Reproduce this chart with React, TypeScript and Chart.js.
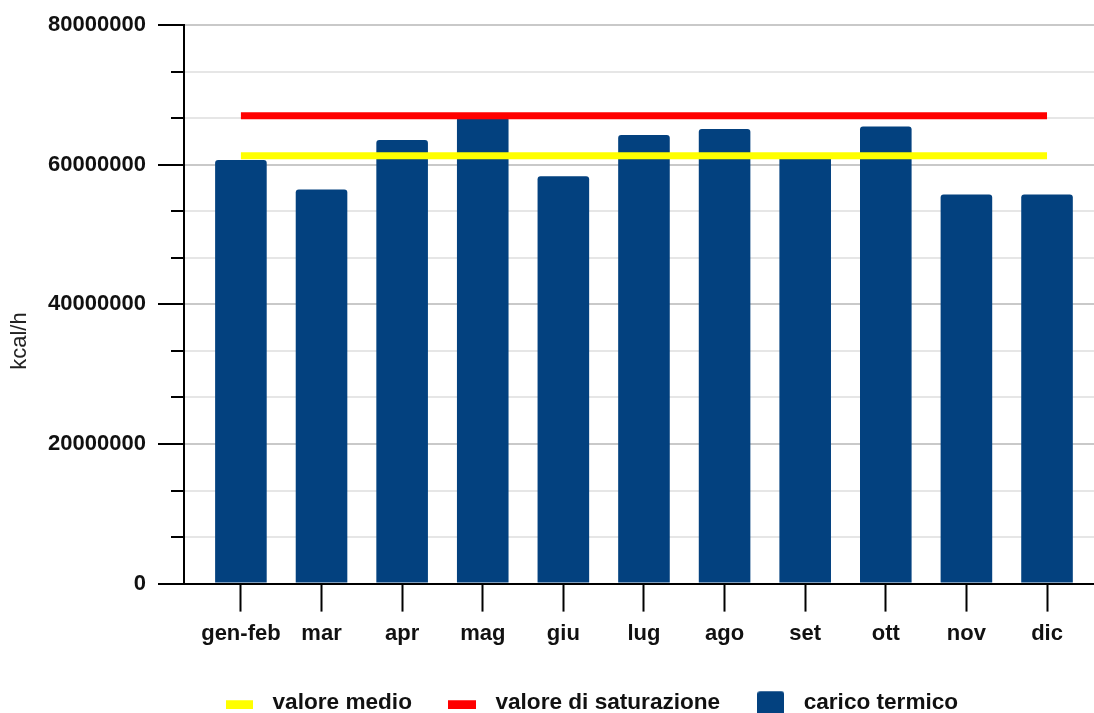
import React, { useEffect, useRef } from 'react';
import { Chart, registerables } from 'chart.js';

Chart.register(...registerables);

// ---- data ----
const categories = ['gen-feb', 'mar', 'apr', 'mag', 'giu', 'lug', 'ago', 'set', 'ott', 'nov', 'dic'];
const caricoTermico = [60690000, 56450000, 63550000, 66900000, 58350000, 64270000, 65130000, 61200000, 65500000, 55730000, 55730000];
const valoreMedio = 61300000;
const valoreSaturazione = 67030000;
const yTickValues = [0, 6666667, 13333333, 20000000, 26666667, 33333333, 40000000, 46666667, 53333333, 60000000, 66666667, 73333333, 80000000];
const yLabelValues = [0, 20000000, 40000000, 60000000, 80000000];
const seriesLabels = ['valore medio', 'valore di saturazione', 'carico termico'];
const yTitle = 'kcal/h';

const FONT = "'Liberation Sans', Arial, Helvetica, sans-serif";
const YELLOW = '#ffff00';
const RED = '#ff0000';
const BLUE = '#03417f';

const isMajor = (v: number) => yLabelValues.some((m) => Math.abs(m - v) < 1);

function makeMarker(color: string, w: number, h: number, shift: number, radius: number) {
  const c = document.createElement('canvas');
  c.width = w;
  c.height = h + shift * 2;
  const ctx = c.getContext('2d')!;
  ctx.fillStyle = color;
  ctx.beginPath();
  if (radius > 0 && (ctx as any).roundRect) {
    (ctx as any).roundRect(0, shift * 2, w, h, radius);
  } else {
    ctx.rect(0, shift * 2, w, h);
  }
  ctx.fill();
  return c;
}

export default function App() {
  const ref = useRef<HTMLCanvasElement>(null);

  useEffect(() => {
    document.body.style.margin = '0';
    const markers = [
      makeMarker(YELLOW, 27, 9, 2, 0),
      makeMarker(RED, 28, 9, 2, 0),
      makeMarker(BLUE, 27, 27, 2, 3),
    ];

    const chart = new Chart(ref.current!, {
      type: 'bar',
      data: {
        datasets: [
          {
            type: 'line',
            label: seriesLabels[0],
            data: categories.map((_, i) => ({ x: i, y: valoreMedio })),
            borderColor: YELLOW,
            backgroundColor: YELLOW,
            borderWidth: 7,
            pointRadius: 0,
            pointHoverRadius: 0,
            borderCapStyle: 'butt',
            fill: false,
            tension: 0,
          } as any,
          {
            type: 'line',
            label: seriesLabels[1],
            data: categories.map((_, i) => ({ x: i, y: valoreSaturazione })),
            borderColor: RED,
            backgroundColor: RED,
            borderWidth: 7,
            pointRadius: 0,
            pointHoverRadius: 0,
            borderCapStyle: 'butt',
            fill: false,
            tension: 0,
          } as any,
          {
            type: 'bar',
            label: seriesLabels[2],
            data: categories.map((_, i) => ({ x: i, y: caricoTermico[i] })),
            backgroundColor: BLUE,
            borderWidth: 0,
            borderRadius: 3,
            borderSkipped: 'start',
            barPercentage: 0.64,
            categoryPercentage: 1,
          } as any,
        ],
      },
      options: {
        responsive: false,
        maintainAspectRatio: false,
        animation: false,
        events: [],
        layout: { padding: { top: 24, left: 0, right: 0, bottom: 0 } },
        plugins: {
          tooltip: { enabled: false },
          legend: {
            position: 'bottom',
            labels: {
              usePointStyle: true,
              pointStyleWidth: 43.4,
              boxHeight: 22.6,
              padding: 28.8,
              color: '#111',
              font: { family: FONT, size: 22.6, weight: 'bold' },
              generateLabels: (ch: any) => {
                const items = (Chart.defaults.plugins.legend.labels as any).generateLabels(ch);
                return items.map((it: any, i: number) => ({ ...it, pointStyle: markers[i], lineWidth: 0 }));
              },
            },
          },
        },
        scales: {
          x: {
            type: 'linear',
            min: -0.706,
            max: 11.6,
            offset: false,
            afterBuildTicks: (s: any) => {
              s.ticks = categories.map((_, i) => ({ value: i }));
            },
            afterFit: (s: any) => {
              s.height = 79;
            },
            ticks: {
              autoSkip: false,
              maxRotation: 0,
              minRotation: 0,
              padding: 9,
              color: '#111',
              font: { family: FONT, size: 22, weight: 'bold' },
              callback: (v: any) => categories[Math.round(Number(v))] ?? '',
            },
            grid: {
              offset: false,
              drawOnChartArea: false,
              drawTicks: true,
              tickLength: 28,
              tickColor: '#000',
              tickWidth: 2,
            },
            border: { display: true, color: '#000', width: 2 },
          },
          y: {
            type: 'linear',
            min: 0,
            max: 80000000,
            afterBuildTicks: (s: any) => {
              s.ticks = yTickValues.map((v) => ({ value: v }));
            },
            afterFit: (s: any) => {
              s.width = 184;
            },
            ticks: {
              padding: 12,
              color: '#111',
              font: { family: FONT, size: 22, weight: 'bold' },
              callback: (v: any) => (isMajor(Number(v)) ? String(Math.round(Number(v))) : ''),
            },
            grid: {
              color: (c: any) => {
                const v = c.tick?.value ?? 0;
                if (Math.abs(v) < 1) return 'rgba(0,0,0,0)';
                return isMajor(v) ? '#c9c9c9' : '#e6e6e6';
              },
              lineWidth: 2,
              drawTicks: true,
              tickLength: 26,
              tickColor: '#000',
              tickWidth: 2,
              tickBorderDash: (c: any) => (isMajor(c.tick?.value ?? 0) ? [] : [13, 13]),
              tickBorderDashOffset: (c: any) => (isMajor(c.tick?.value ?? 0) ? 0 : 13),
            },
            border: { display: true, color: '#000', width: 2 },
            title: {
              display: true,
              text: yTitle + '            ',
              color: '#222',
              font: { family: FONT, size: 22, weight: 'normal' },
              padding: { top: 7, bottom: 14 },
            },
          },
        },
      } as any,
    });
    return () => chart.destroy();
  }, []);

  return (
    <div style={{ width: 1094, height: 713, overflow: 'hidden', position: 'relative', background: '#fff' }}>
      <canvas ref={ref} width={1176} height={724} style={{ display: 'block' }} />
    </div>
  );
}
